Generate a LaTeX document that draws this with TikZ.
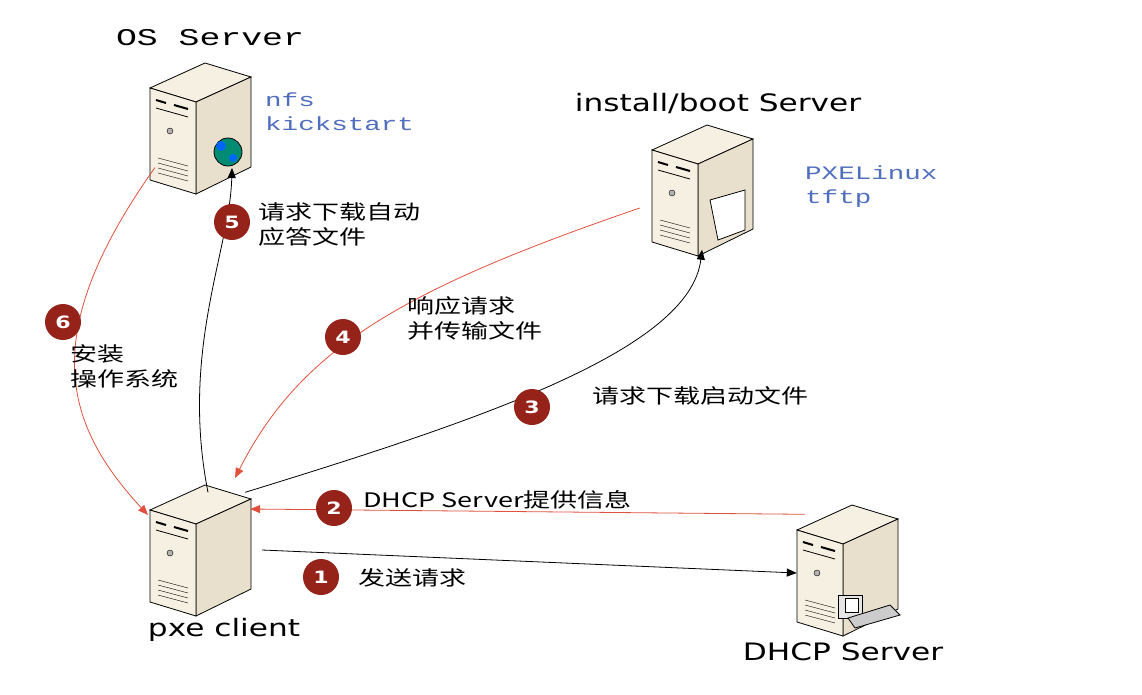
\documentclass[tikz,border=0pt]{standalone}
\usepackage{fontspec}
\setmainfont{DejaVu Sans}[FakeStretch=1.3]
\newfontfamily\cjk{Noto Sans CJK SC}[FakeStretch=1.35]
\newfontfamily\mono{Liberation Mono}[FakeStretch=1.45]
\usetikzlibrary{arrows.meta}
\definecolor{case}{RGB}{245,240,225}
\definecolor{caseside}{RGB}{232,224,205}
\definecolor{badge}{RGB}{150,35,25}
\definecolor{redline}{RGB}{225,80,60}
\definecolor{monoblue}{RGB}{80,110,190}
\tikzset{
  badge/.style={circle, fill=badge, text=white, font=\bfseries\fontsize{17}{19}\selectfont, minimum size=36pt, inner sep=0pt},
  slot/.style={anchor=west, inner sep=0pt, align=left, font=\cjk\fontsize{20}{25}\selectfont},
  note/.style={anchor=north west, inner sep=0pt, align=left, font=\mono\fontsize{19}{24}\selectfont, text=monoblue},
  title/.style={inner sep=0pt, font=\fontsize{24}{26}\selectfont},
  box/.style={inner sep=0pt, minimum width=100pt, minimum height=115pt},
  blackarr/.style={-{Triangle[length=10pt,width=8pt]}, thick},
  redarr/.style={-{Triangle[length=10pt,width=8pt]}, thick, redline},
  server/.pic={
    \filldraw[fill=case, thick] (0,0) -- (46,14) -- (101,-11) -- (55,-25) -- cycle;
    \filldraw[fill=caseside, thick] (46,14) -- (101,-11) -- (101,79) -- (46,106) -- cycle;
    \filldraw[fill=case, thick] (0,0) -- (46,14) -- (46,106) -- (0,92) -- cycle;
    \draw[line width=2pt] (6,12) -- (16,15) (24,17) -- (38,21);
    \draw[thick] (6,20) -- (38,29);
    \draw[fill=gray!60] (20,43) circle (3);
    \foreach \k in {0,...,3} \draw (8,70+5*\k) -- (38,78+5*\k);
  }
}
\begin{document}
\begin{tikzpicture}[x=1pt, y=-1pt]
\useasboundingbox (0,0) rectangle (1142,694);
% servers
\pic at (150,88) {server};
\pic at (652,150) {server};
\pic at (150,510) {server};
\pic at (797,530) {server};
\filldraw[fill=green!55!blue, thick] (228,152) circle (14);
\fill[blue!60!cyan] (221,146) circle (5) (233,158) circle (4);
\filldraw[fill=white, thick] (710,200) -- (745,190) -- (745,230) -- (718,240) -- cycle;
\filldraw[fill=gray!20, thick] (838,595) rectangle (862,618);
\filldraw[fill=gray!40, thick] (848,618) -- (890,605) -- (900,615) -- (855,628) -- cycle;
\filldraw[fill=white, thick] (845,598) rectangle (858,612);

% anchor boxes
\node[box] (os) at (200,130) {};
\node[box] (boot) at (702,192) {};
\node[box] (pxe) at (200,552) {};
\node[box] (dhcp) at (847,572) {};

% titles and notes
\node[title, font=\mono\fontsize{24}{26}\selectfont] at (210,38) {OS Server};
\node[title] at (718,103) {install/boot Server};
\node[title] at (224,630) {pxe client};
\node[title] at (843,652) {DHCP Server};
\node[note] at (265,93) {nfs\\kickstart};
\node[note] at (805,166) {PXELinux\\tftp};

% connectors
\draw[blackarr] (pxe.east) ++(12,-2) -- (dhcp.west |- 0,573);
\draw[redarr] (dhcp.north west) ++(8,0) -- (pxe.north east |- 0,509);
\draw[blackarr] (pxe.north east) ++(-5,-2) .. controls (480,420) and (690,350) .. (boot.south);
\draw[redarr] (boot.west) ++(-12,16) .. controls (400,290) and (300,350) .. (235,478);
\draw[blackarr] (pxe.north) ++(8,-2) .. controls (180,350) and (230,250) .. (232,168);
\draw[redarr] (os.south west) ++(5,-20) .. controls (40,330) and (60,420) .. (148,515);

% numbered steps
\node[badge] (b1) at (321,577) {1};
\node[slot] at (358,578) {发送请求};
\node[badge] (b2) at (334,508) {2};
\node[slot] at (363,500) {DHCP Server提供信息};
\node[badge] (b3) at (532,407) {3};
\node[slot] at (592,396) {请求下载启动文件};
\node[badge] (b4) at (343,337) {4};
\node[slot] at (407,318) {响应请求\\并传输文件};
\node[badge] (b5) at (232,222) {5};
\node[slot] at (258,224) {请求下载自动\\应答文件};
\node[badge] (b6) at (63,322) {6};
\node[slot] at (70,366) {安装\\操作系统};
\end{tikzpicture}
\end{document}
